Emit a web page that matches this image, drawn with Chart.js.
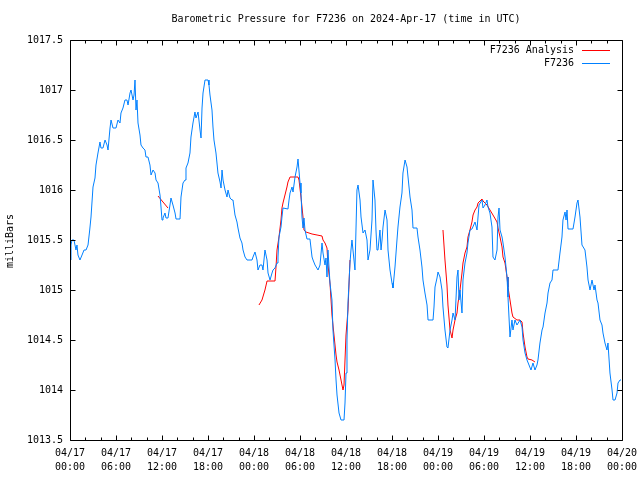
<!DOCTYPE html>
<html>
<head>
<meta charset="utf-8">
<script src="https://cdn.jsdelivr.net/npm/chart.js@4.4.1/dist/chart.umd.min.js"></script>
<style>
html,body{margin:0;padding:0;background:#fff;}
canvas{display:block;}
</style>
</head>
<body>
<canvas id="c" width="640" height="480"></canvas>
<script>
// ---- data ----
const chartTitle = 'Barometric Pressure for F7236 on 2024-Apr-17 (time in UTC)';
const yAxisLabel = 'milliBars';
const seriesNames = ['F7236 Analysis', 'F7236'];
const xTickDates = ['04/17','04/17','04/17','04/17','04/18','04/18','04/18','04/18','04/19','04/19','04/19','04/19','04/20'];
const xTickTimes = ['00:00','06:00','12:00','18:00','00:00','06:00','12:00','18:00','00:00','06:00','12:00','18:00','00:00'];

// hours since 04/17 00:00 UTC
const stationHours = [
0,0.13,0.26,0.52,0.78,0.91,1.04,1.30,1.57,1.83,2.09,2.35,2.57,2.74,2.87,3.00,3.26,3.39,3.65,3.91,
4.04,4.30,4.57,4.83,4.96,5.22,5.35,5.61,6.00,6.26,6.52,6.65,6.91,7.17,7.43,7.57,7.83,7.96,8.22,8.35,
8.48,8.61,8.74,8.87,9.13,9.26,9.52,9.78,9.91,10.17,10.43,10.57,10.83,11.09,11.22,11.48,11.74,11.87,12.00,12.13,
12.39,12.52,12.78,13.04,13.17,13.43,13.70,13.83,14.35,14.48,14.74,15.00,15.13,15.39,15.65,15.78,16.04,16.30,16.43,16.70,
16.96,17.09,17.22,17.35,17.61,18.00,18.13,18.26,18.52,18.65,18.78,19.04,19.17,19.30,19.57,19.70,19.83,19.96,20.22,20.48,
20.61,20.87,21.13,21.26,21.52,21.78,21.91,22.17,22.43,22.57,22.83,23.09,23.74,23.87,24.13,24.39,24.52,24.78,25.04,25.17,
25.43,25.70,25.83,26.09,26.35,26.48,26.74,27.00,27.13,27.26,27.52,27.65,27.78,28.43,28.57,28.70,28.96,29.09,29.35,29.61,
29.74,30.00,30.13,30.26,30.39,30.52,30.65,30.91,31.30,31.57,31.70,31.96,32.35,32.61,32.87,33.00,33.26,33.39,33.52,33.65,
33.91,34.17,34.30,34.57,34.70,34.83,35.09,35.35,35.74,35.87,36.00,36.13,36.26,36.52,36.65,36.78,37.17,37.43,37.57,37.83,
37.96,38.22,38.48,38.74,38.87,39.13,39.39,39.52,39.78,39.91,40.04,40.17,40.43,40.57,40.70,40.83,41.09,41.35,41.48,41.74,
42.00,42.13,42.39,42.65,42.78,43.04,43.30,43.43,43.70,43.96,44.09,44.35,44.61,44.74,45.26,45.39,45.65,45.91,46.04,46.30,
46.57,46.70,47.35,47.48,47.61,47.87,48.00,48.26,48.52,48.65,48.91,49.17,49.30,49.57,49.83,49.96,50.22,50.48,50.61,50.74,
50.87,51.13,51.26,51.52,51.78,51.91,52.17,52.43,52.83,53.09,53.22,53.35,53.74,53.87,54.13,54.39,54.52,54.78,55.04,55.17,
55.43,55.70,55.83,55.96,56.09,56.35,56.48,56.74,57.00,57.13,57.39,57.65,57.78,58.04,58.30,58.70,58.96,59.09,59.35,59.61,
59.87,60.13,60.39,60.65,60.91,61.04,61.30,61.57,61.70,61.96,62.22,62.35,62.61,62.87,63.00,63.65,63.91,64.17,64.30,64.57,
64.70,64.83,64.96,65.61,65.87,66.13,66.26,66.52,66.78,67.17,67.43,67.57,67.83,68.09,68.35,68.48,68.74,68.87,69.13,69.39,
69.52,69.78,70.04,70.17,70.43,70.70,70.83,71.09,71.35,71.48,71.74,71.87
];
const stationPressure = [
1015.3,1015.45,1015.5,1015.5,1015.4,1015.45,1015.35,1015.3,1015.35,1015.4,1015.4,1015.45,1015.6,1015.73,1015.88,1016.03,1016.12,1016.25,1016.37,1016.48,
1016.42,1016.42,1016.5,1016.45,1016.4,1016.62,1016.7,1016.62,1016.62,1016.7,1016.67,1016.77,1016.82,1016.9,1016.9,1016.85,1016.97,1017.0,1016.9,1016.95,
1017.1,1016.8,1016.9,1016.67,1016.55,1016.45,1016.42,1016.4,1016.33,1016.33,1016.25,1016.15,1016.2,1016.17,1016.1,1016.07,1015.95,1015.83,1015.7,1015.72,
1015.77,1015.72,1015.72,1015.85,1015.92,1015.85,1015.77,1015.71,1015.71,1015.93,1016.07,1016.1,1016.22,1016.27,1016.37,1016.53,1016.67,1016.78,1016.72,1016.78,
1016.6,1016.52,1016.82,1016.97,1017.1,1017.1,1017.05,1016.95,1016.8,1016.63,1016.5,1016.37,1016.27,1016.17,1016.08,1016.02,1016.2,1016.1,1016.0,1015.93,
1016.0,1015.92,1015.9,1015.9,1015.75,1015.68,1015.62,1015.52,1015.47,1015.4,1015.33,1015.3,1015.3,1015.33,1015.38,1015.3,1015.2,1015.25,1015.25,1015.2,
1015.4,1015.3,1015.17,1015.1,1015.17,1015.2,1015.22,1015.27,1015.33,1015.53,1015.63,1015.73,1015.82,1015.81,1015.9,1015.97,1016.03,1015.98,1016.13,1016.23,
1016.31,1016.07,1015.97,1015.73,1015.62,1015.72,1015.6,1015.51,1015.51,1015.33,1015.3,1015.25,1015.2,1015.25,1015.47,1015.37,1015.25,1015.32,1015.13,1015.4,
1015.07,1014.9,1014.6,1014.3,1014.1,1013.95,1013.77,1013.7,1013.7,1013.87,1014.17,1014.5,1014.87,1015.27,1015.4,1015.5,1015.2,1016.0,1016.05,1015.9,
1015.73,1015.57,1015.6,1015.5,1015.3,1015.4,1015.7,1016.1,1015.9,1015.6,1015.4,1015.4,1015.6,1015.4,1015.5,1015.63,1015.8,1015.7,1015.4,1015.2,
1015.07,1015.02,1015.23,1015.5,1015.63,1015.83,1015.97,1016.17,1016.3,1016.23,1016.13,1015.93,1015.8,1015.62,1015.62,1015.53,1015.4,1015.23,1015.1,1014.97,
1014.85,1014.7,1014.7,1014.83,1015.03,1015.12,1015.18,1015.13,1015.0,1014.83,1014.6,1014.43,1014.42,1014.6,1014.7,1014.77,1014.7,1015.13,1015.2,1014.9,
1015.0,1014.77,1015.1,1015.27,1015.37,1015.47,1015.6,1015.61,1015.68,1015.6,1015.73,1015.85,1015.9,1015.82,1015.85,1015.9,1015.83,1015.77,1015.63,1015.33,
1015.3,1015.4,1015.73,1015.82,1015.6,1015.53,1015.47,1015.33,1015.13,1014.93,1014.53,1014.7,1014.6,1014.7,1014.65,1014.7,1014.63,1014.5,1014.37,1014.3,
1014.25,1014.2,1014.27,1014.2,1014.25,1014.3,1014.47,1014.6,1014.63,1014.77,1014.87,1014.97,1015.07,1015.1,1015.2,1015.2,1015.37,1015.53,1015.7,1015.78,
1015.7,1015.8,1015.61,1015.61,1015.73,1015.87,1015.9,1015.73,1015.45,1015.4,1015.23,1015.1,1015.0,1015.1,1015.0,1015.05,1014.9,1014.87,1014.7,1014.65,
1014.57,1014.47,1014.4,1014.47,1014.17,1014.0,1013.9,1013.9,1013.97,1014.07,1014.1,1014.1
];

// analysis series (null = gap between analysis runs)
const analysisHours = [
11.48,12.78,12.9,
24.65,25.04,25.43,25.70,26.74,26.87,27.00,27.26,27.52,27.65,27.78,28.04,28.30,28.43,28.70,29.74,29.87,30.13,30.26,30.39,30.52,30.78,
31.57,32.22,32.87,33.00,33.26,33.52,33.65,33.91,34.17,34.30,34.70,34.83,35.09,35.35,35.48,35.61,35.74,35.87,36.00,36.26,36.52,36.6,
48.65,48.91,49.17,49.30,49.57,49.83,49.96,50.22,50.48,50.61,50.87,51.13,51.26,51.52,51.78,51.91,52.17,52.43,52.57,52.83,53.09,53.22,
53.48,53.74,53.87,54.13,54.39,54.78,55.17,55.70,55.83,56.09,56.35,56.48,56.74,57.00,57.13,57.39,57.65,57.78,58.30,58.70,58.96,59.09,
59.35,59.61,59.74,60.26,60.65
];
const analysisPressure = [
1015.94,1015.82,null,
1014.85,1014.9,1015.0,1015.09,1015.09,1015.23,1015.4,1015.53,1015.7,1015.82,1015.87,1015.95,1016.03,1016.08,1016.13,1016.13,1016.1,1015.93,1015.83,1015.73,1015.6,1015.58,
1015.56,1015.55,1015.54,1015.5,1015.47,1015.42,1015.25,1015.07,1014.75,1014.65,1014.35,1014.28,1014.2,1014.1,1014.05,1014.0,1014.05,1014.3,1014.55,1014.8,1015.3,null,
1015.6,1015.3,1015.05,1014.85,1014.6,1014.52,1014.6,1014.7,1014.77,1014.87,1015.0,1015.17,1015.27,1015.37,1015.43,1015.53,1015.6,1015.68,1015.75,1015.8,1015.83,1015.87,
1015.89,1015.91,1015.89,1015.87,1015.85,1015.8,1015.75,1015.68,1015.62,1015.53,1015.43,1015.33,1015.27,1015.13,1015.03,1014.9,1014.77,1014.73,1014.7,1014.7,1014.68,1014.57,
1014.43,1014.33,1014.31,1014.3,1014.28
];

const colors = ['#ff0000', '#0080ff'];
const FONT = '"DejaVu Sans Mono", "Liberation Mono", monospace';

function toPoints(xs, ys) { return xs.map((x, i) => ({ x: x, y: ys[i] })); }

const framePlugin = {
  id: 'frame',
  afterDatasetsDraw(chart) {
    const ctx = chart.ctx, a = chart.chartArea;
    const xs = chart.scales.x, ys = chart.scales.y;
    ctx.save();
    ctx.strokeStyle = '#000';
    ctx.lineWidth = 1;
    ctx.beginPath();
    const L = Math.round(a.left) + 0.5, R = Math.round(a.right) + 0.5;
    const T = Math.round(a.top) + 0.5, B = Math.round(a.bottom) + 0.5;
    ctx.rect(L, T, R - L, B - T);
    // x ticks (every 2 h, major every 6 h) on bottom and top, inward
    for (let h = xs.min; h <= xs.max; h += 2) {
      const px = Math.round(xs.getPixelForValue(h)) + 0.5;
      const len = (h % 6 === 0) ? 5 : 3;
      ctx.moveTo(px, B); ctx.lineTo(px, B - len);
      ctx.moveTo(px, T); ctx.lineTo(px, T + len);
    }
    // y ticks on left and right, inward
    ys.ticks.forEach(t => {
      const py = Math.round(ys.getPixelForValue(t.value)) + 0.5;
      ctx.moveTo(L, py); ctx.lineTo(L + 5, py);
      ctx.moveTo(R, py); ctx.lineTo(R - 5, py);
    });
    ctx.stroke();

    // title
    ctx.fillStyle = '#000';
    ctx.font = '10px ' + FONT;
    ctx.textAlign = 'center';
    ctx.textBaseline = 'middle';
    ctx.fillText(chartTitle, (a.left + a.right) / 2, 19);

    // y axis title
    ctx.save();
    ctx.translate(10, (a.top + a.bottom) / 2 + 1);
    ctx.rotate(-Math.PI / 2);
    ctx.fillText(yAxisLabel, 0, 0);
    ctx.restore();

    // legend (text right-aligned, line sample on the right)
    ctx.textAlign = 'right';
    chart.data.datasets.forEach((ds, i) => {
      const y = 50 + i * 13;
      ctx.fillStyle = '#000';
      ctx.fillText(ds.label, 574, y);
      ctx.strokeStyle = ds.borderColor;
      ctx.beginPath();
      ctx.moveTo(582, Math.round(y) + 0.5);
      ctx.lineTo(610, Math.round(y) + 0.5);
      ctx.stroke();
    });
    ctx.restore();
  }
};

new Chart(document.getElementById('c'), {
  type: 'line',
  data: {
    datasets: [
      { label: seriesNames[0], data: toPoints(analysisHours, analysisPressure), borderColor: colors[0],
        borderWidth: 1, pointRadius: 0, spanGaps: false, tension: 0, order: 1 },
      { label: seriesNames[1], data: toPoints(stationHours, stationPressure), borderColor: colors[1],
        borderWidth: 1, pointRadius: 0, spanGaps: false, tension: 0, order: 0 }
    ]
  },
  options: {
    responsive: false,
    animation: false,
    events: [],
    layout: { padding: { top: 40, right: 18, left: 0, bottom: 0 } },
    plugins: { legend: { display: false }, title: { display: false }, tooltip: { enabled: false } },
    scales: {
      x: {
        type: 'linear', min: 0, max: 72,
        grid: { display: false, drawTicks: false },
        border: { display: false },
        afterFit(s) { s.height = 40; s.paddingLeft = 0; s.paddingRight = 0; },
        ticks: {
          stepSize: 6, autoSkip: false, maxRotation: 0, padding: 6,
          color: '#000', font: { family: FONT, size: 10, lineHeight: 1.4 },
          callback: (v) => { const i = Math.round(v / 6); return [xTickDates[i], xTickTimes[i]]; }
        }
      },
      y: {
        type: 'linear', min: 1013.5, max: 1017.5,
        grid: { display: false, drawTicks: false },
        border: { display: false },
        afterFit(s) { s.width = 70; s.paddingTop = 0; s.paddingBottom = 0; },
        ticks: {
          stepSize: 0.5, padding: 7, color: '#000', font: { family: FONT, size: 10 },
          callback: (v) => String(Math.round(v * 10) / 10)
        }
      }
    }
  },
  plugins: [framePlugin]
});
</script>
</body>
</html>
